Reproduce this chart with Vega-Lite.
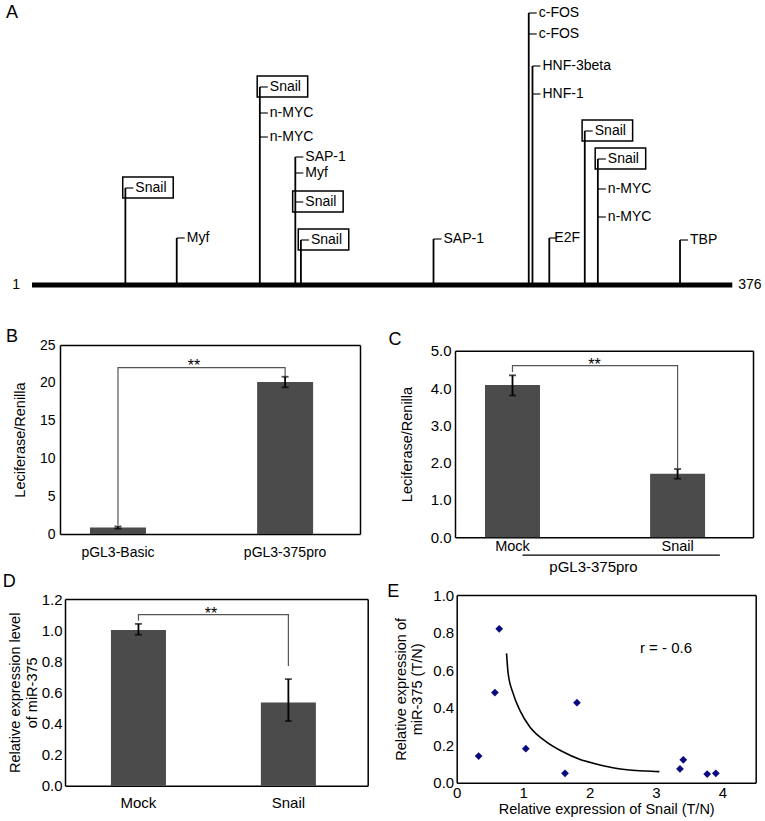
{
  "$schema": "https://vega.github.io/schema/vega-lite/v6.json",
  "width": 765,
  "height": 821,
  "autosize": {"type": "none"},
  "padding": 0,
  "background": "white",
  "config": {
    "font": "Liberation Sans",
    "view": {"stroke": null},
    "axis": {"grid": false, "ticks": false, "domainColor": "black", "domainWidth": 1.5, "labelColor": "black", "titleColor": "black", "titleFontWeight": "normal", "labelFont": "Liberation Sans", "titleFont": "Liberation Sans", "labelFlush": false, "labelOverlap": false}
  },
  "datasets": {
    "tfs": [
      {"pos": 51, "level": 97, "tf": "Snail", "boxed": true},
      {"pos": 78.5, "level": 47, "tf": "Myf", "boxed": false},
      {"pos": 123, "level": 198, "tf": "Snail", "boxed": true},
      {"pos": 123, "level": 172, "tf": "n-MYC", "boxed": false},
      {"pos": 123, "level": 148, "tf": "n-MYC", "boxed": false},
      {"pos": 142, "level": 128, "tf": "SAP-1", "boxed": false},
      {"pos": 142, "level": 112, "tf": "Myf", "boxed": false},
      {"pos": 142, "level": 83, "tf": "Snail", "boxed": true},
      {"pos": 145, "level": 45, "tf": "Snail", "boxed": true},
      {"pos": 216, "level": 46, "tf": "SAP-1", "boxed": false},
      {"pos": 267, "level": 272, "tf": "c-FOS", "boxed": false},
      {"pos": 267, "level": 251, "tf": "c-FOS", "boxed": false},
      {"pos": 269, "level": 219, "tf": "HNF-3beta", "boxed": false},
      {"pos": 269, "level": 191, "tf": "HNF-1", "boxed": false},
      {"pos": 278, "level": 47, "tf": "E2F", "boxed": false},
      {"pos": 297, "level": 154, "tf": "Snail", "boxed": true},
      {"pos": 304, "level": 126, "tf": "Snail", "boxed": true},
      {"pos": 304, "level": 96, "tf": "n-MYC", "boxed": false},
      {"pos": 304, "level": 68, "tf": "n-MYC", "boxed": false},
      {"pos": 348, "level": 45, "tf": "TBP", "boxed": false}
    ],
    "seq": [{"start": 1, "end": 376, "level": 0}],
    "b": [
      {"group": "pGL3-Basic", "value": 0.85, "lo": 0.72, "hi": 1.0},
      {"group": "pGL3-375pro", "value": 20.1, "lo": 19.4, "hi": 20.8}
    ],
    "bBr": [
      {"group": "pGL3-Basic", "y": 1.2, "o": 1},
      {"group": "pGL3-Basic", "y": 22, "o": 2},
      {"group": "pGL3-375pro", "y": 22, "o": 3},
      {"group": "pGL3-375pro", "y": 20.9, "o": 4}
    ],
    "c": [
      {"group": "Mock", "value": 4.08, "lo": 3.8, "hi": 4.34},
      {"group": "Snail", "value": 1.7, "lo": 1.57, "hi": 1.83}
    ],
    "cBr": [
      {"group": "Mock", "y": 4.43, "o": 1},
      {"group": "Mock", "y": 4.6, "o": 2},
      {"group": "Snail", "y": 4.6, "o": 3},
      {"group": "Snail", "y": 1.86, "o": 4}
    ],
    "d": [
      {"group": "Mock", "value": 1.0, "lo": 0.97, "hi": 1.04},
      {"group": "Snail", "value": 0.535, "lo": 0.415, "hi": 0.685}
    ],
    "dBr": [
      {"group": "Mock", "y": 1.06, "o": 1},
      {"group": "Mock", "y": 1.1, "o": 2},
      {"group": "Snail", "y": 1.1, "o": 3},
      {"group": "Snail", "y": 0.77, "o": 4}
    ],
    "ePts": [
      {"snail": 0.33, "mir": 0.142},
      {"snail": 0.575, "mir": 0.48},
      {"snail": 0.64, "mir": 0.82},
      {"snail": 1.04, "mir": 0.181},
      {"snail": 1.63, "mir": 0.05},
      {"snail": 1.81, "mir": 0.426},
      {"snail": 3.36, "mir": 0.073},
      {"snail": 3.41, "mir": 0.122},
      {"snail": 3.77, "mir": 0.046},
      {"snail": 3.9, "mir": 0.05}
    ],
    "eCurve": [
      {"snail": 0.75, "mir": 0.689},
      {"snail": 0.774, "mir": 0.583},
      {"snail": 0.849, "mir": 0.476},
      {"snail": 0.949, "mir": 0.387},
      {"snail": 1.099, "mir": 0.298},
      {"snail": 1.349, "mir": 0.218},
      {"snail": 1.598, "mir": 0.165},
      {"snail": 1.849, "mir": 0.125},
      {"snail": 2.099, "mir": 0.1},
      {"snail": 2.348, "mir": 0.08},
      {"snail": 2.598, "mir": 0.068},
      {"snail": 2.849, "mir": 0.062},
      {"snail": 3.05, "mir": 0.059}
    ]
  },
  "layer": [
    {
      "layer": [
        {
          "data": {"name": "tfs"},
          "mark": {"type": "tick", "orient": "horizontal", "color": "black", "size": 8, "thickness": 1.6, "xOffset": 4},
          "encoding": {
            "x": {"field": "pos", "type": "quantitative", "scale": {"domain": [1, 376], "range": [32, 732.3], "nice": false, "zero": false}, "axis": null},
            "y": {"field": "level", "type": "quantitative", "scale": {"domain": [0, 285], "range": [285, 0], "nice": false, "zero": false}, "axis": null}
          }
        },
        {
          "data": {"name": "seq"},
          "mark": {"type": "rule", "color": "black", "strokeWidth": 5},
          "encoding": {
            "x": {"field": "start", "type": "quantitative", "axis": null},
            "x2": {"field": "end"},
            "y": {"field": "level", "type": "quantitative", "axis": null}
          }
        },
        {
          "data": {"name": "tfs"},
          "transform": [{"aggregate": [{"op": "max", "field": "level", "as": "top"}], "groupby": ["pos"]}],
          "mark": {"type": "rule", "color": "black", "strokeWidth": 1.8},
          "encoding": {
            "x": {"field": "pos", "type": "quantitative", "axis": null},
            "y": {"field": "top", "type": "quantitative", "axis": null}
          }
        },
        {
          "data": {"name": "tfs"},
          "transform": [{"filter": "datum.tf !== 'E2F'"}],
          "mark": {"type": "text", "align": "left", "baseline": "middle", "dx": 10, "fontSize": 14, "color": "black"},
          "encoding": {
            "x": {"field": "pos", "type": "quantitative", "axis": null},
            "y": {"field": "level", "type": "quantitative", "axis": null},
            "text": {"field": "tf", "type": "nominal"}
          }
        },
        {
          "data": {"name": "tfs"},
          "transform": [{"filter": "datum.tf === 'E2F'"}],
          "mark": {"type": "text", "align": "left", "baseline": "middle", "dx": 5, "fontSize": 14, "color": "black"},
          "encoding": {
            "x": {"field": "pos", "type": "quantitative", "axis": null},
            "y": {"field": "level", "type": "quantitative", "axis": null},
            "text": {"field": "tf", "type": "nominal"}
          }
        },
        {
          "data": {"name": "tfs"},
          "transform": [{"filter": "datum.boxed"}],
          "mark": {"type": "point", "shape": "M-1,-0.42L1,-0.42L1,0.42L-1,0.42Z", "size": 2550, "filled": false, "stroke": "black", "strokeWidth": 1.5, "opacity": 1, "xOffset": 22.6, "yOffset": -0.5},
          "encoding": {
            "x": {"field": "pos", "type": "quantitative", "axis": null},
            "y": {"field": "level", "type": "quantitative", "axis": null}
          }
        },
        {
          "data": {"values": [{"pos": 1, "level": 0, "t": "1"}]},
          "mark": {"type": "text", "align": "right", "baseline": "middle", "dx": -12, "fontSize": 14},
          "encoding": {
            "x": {"field": "pos", "type": "quantitative", "axis": null},
            "y": {"field": "level", "type": "quantitative", "axis": null},
            "text": {"field": "t", "type": "nominal"}
          }
        },
        {
          "data": {"values": [{"pos": 376, "level": 0, "t": "376"}]},
          "mark": {"type": "text", "align": "left", "baseline": "middle", "dx": 6, "fontSize": 14},
          "encoding": {
            "x": {"field": "pos", "type": "quantitative", "axis": null},
            "y": {"field": "level", "type": "quantitative", "axis": null},
            "text": {"field": "t", "type": "nominal"}
          }
        },
        {
          "data": {"values": [{"pos": 1, "level": 285, "t": "A"}]},
          "mark": {"type": "text", "align": "center", "baseline": "middle", "dx": -20, "dy": 13, "fontSize": 18},
          "encoding": {
            "x": {"field": "pos", "type": "quantitative", "axis": null},
            "y": {"field": "level", "type": "quantitative", "axis": null},
            "text": {"field": "t", "type": "nominal"}
          }
        }
      ]
    },
    {
      "layer": [
        {
          "data": {"name": "b"},
          "mark": {"type": "bar", "color": "#4b4b4b"},
          "encoding": {
            "x": {"field": "group", "type": "nominal", "scale": {"domain": ["pGL3-Basic", "pGL3-375pro"], "range": [60, 360], "paddingInner": 0.665, "paddingOuter": 0.23, "align": 0.39}, "axis": {"orient": "bottom", "offset": -287, "title": null, "labelAngle": 0, "labelFontSize": 14, "labelPadding": 11}},
            "y": {"field": "value", "type": "quantitative", "scale": {"domain": [0, 25], "range": [534, 345], "nice": false, "zero": false}, "axis": {"orient": "left", "offset": -60, "values": [0, 5, 10, 15, 20, 25], "title": "Leciferase/Renilla", "labelFontSize": 14, "labelPadding": 5, "titleFontSize": 14.5, "titlePadding": 12}}
          }
        },
        {
          "data": {"name": "b"},
          "mark": {"type": "rule", "color": "black", "strokeWidth": 1.8},
          "encoding": {
            "x": {"field": "group", "type": "nominal", "axis": null},
            "y": {"field": "lo", "type": "quantitative", "axis": null},
            "y2": {"field": "hi"}
          }
        },
        {
          "data": {"name": "b"},
          "mark": {"type": "tick", "orient": "horizontal", "color": "black", "size": 7, "thickness": 1.8},
          "encoding": {
            "x": {"field": "group", "type": "nominal", "axis": null},
            "y": {"field": "lo", "type": "quantitative", "axis": null}
          }
        },
        {
          "data": {"name": "b"},
          "mark": {"type": "tick", "orient": "horizontal", "color": "black", "size": 7, "thickness": 1.8},
          "encoding": {
            "x": {"field": "group", "type": "nominal", "axis": null},
            "y": {"field": "hi", "type": "quantitative", "axis": null}
          }
        },
        {
          "data": {"name": "bBr"},
          "mark": {"type": "line", "color": "#555555", "strokeWidth": 1.2},
          "encoding": {
            "x": {"field": "group", "type": "nominal", "axis": null},
            "y": {"field": "y", "type": "quantitative", "axis": null},
            "order": {"field": "o", "type": "quantitative"}
          }
        },
        {
          "data": {"values": [{"group": "pGL3-Basic", "y": 22, "t": "**"}]},
          "mark": {"type": "text", "align": "center", "baseline": "alphabetic", "dx": 76, "dy": 3.3, "fontSize": 16},
          "encoding": {
            "x": {"field": "group", "type": "nominal", "axis": null},
            "y": {"field": "y", "type": "quantitative", "axis": null},
            "text": {"field": "t", "type": "nominal"}
          }
        },
        {
          "data": {"values": [{"group": "pGL3-Basic", "y": 25, "t": "B"}]},
          "mark": {"type": "text", "align": "center", "baseline": "middle", "dx": -106, "dy": -8, "fontSize": 18},
          "encoding": {
            "x": {"field": "group", "type": "nominal", "axis": null},
            "y": {"field": "y", "type": "quantitative", "axis": null},
            "text": {"field": "t", "type": "nominal"}
          }
        },
        {
          "data": {"name": "b"},
          "mark": {"type": "point", "opacity": 0},
          "encoding": {
            "x": {"field": "group", "type": "nominal", "axis": {"orient": "top", "offset": -345, "labels": false, "title": null}},
            "y": {"field": "value", "type": "quantitative", "axis": {"orient": "right", "offset": -405, "labels": false, "title": null}}
          }
        }
      ],
      "resolve": {"axis": {"x": "independent", "y": "independent"}}
    },
    {
      "layer": [
        {
          "data": {"name": "c"},
          "mark": {"type": "bar", "color": "#4b4b4b"},
          "encoding": {
            "x": {"field": "group", "type": "nominal", "scale": {"domain": ["Mock", "Snail"], "range": [455, 753], "paddingInner": 0.667, "paddingOuter": 0.236, "align": 0.385}, "axis": {"orient": "bottom", "offset": -283.7, "title": "pGL3-375pro", "titleFontSize": 15, "titleX": 593, "titleY": 29.5, "titleBaseline": "middle", "titleAlign": "center", "labelAngle": 0, "labelFontSize": 14.5, "labelPadding": 2.5}},
            "y": {"field": "value", "type": "quantitative", "scale": {"domain": [0, 5], "range": [537.3, 350.7], "nice": false, "zero": false}, "axis": {"orient": "left", "offset": -455, "values": [0, 1, 2, 3, 4, 5], "format": ".1f", "title": "Leciferase/Renilla", "labelFontSize": 15, "labelPadding": 4, "titleFontSize": 14.5, "titlePadding": 16}}
          }
        },
        {
          "data": {"name": "c"},
          "mark": {"type": "rule", "color": "black", "strokeWidth": 1.8},
          "encoding": {
            "x": {"field": "group", "type": "nominal", "axis": null},
            "y": {"field": "lo", "type": "quantitative", "axis": null},
            "y2": {"field": "hi"}
          }
        },
        {
          "data": {"name": "c"},
          "mark": {"type": "tick", "orient": "horizontal", "color": "black", "size": 7, "thickness": 1.8},
          "encoding": {
            "x": {"field": "group", "type": "nominal", "axis": null},
            "y": {"field": "lo", "type": "quantitative", "axis": null}
          }
        },
        {
          "data": {"name": "c"},
          "mark": {"type": "tick", "orient": "horizontal", "color": "black", "size": 7, "thickness": 1.8},
          "encoding": {
            "x": {"field": "group", "type": "nominal", "axis": null},
            "y": {"field": "hi", "type": "quantitative", "axis": null}
          }
        },
        {
          "data": {"name": "cBr"},
          "mark": {"type": "line", "color": "#555555", "strokeWidth": 1.2},
          "encoding": {
            "x": {"field": "group", "type": "nominal", "axis": null},
            "y": {"field": "y", "type": "quantitative", "axis": null},
            "order": {"field": "o", "type": "quantitative"}
          }
        },
        {
          "data": {"values": [{"group": "Mock", "y": 4.6, "t": "**"}]},
          "mark": {"type": "text", "align": "center", "baseline": "alphabetic", "dx": 82, "dy": 4.4, "fontSize": 16},
          "encoding": {
            "x": {"field": "group", "type": "nominal", "axis": null},
            "y": {"field": "y", "type": "quantitative", "axis": null},
            "text": {"field": "t", "type": "nominal"}
          }
        },
        {
          "data": {"values": [{"from": "Mock", "to": "Snail", "y": -0.48}]},
          "mark": {"type": "rule", "color": "black", "strokeWidth": 1.2, "xOffset": 10, "x2Offset": 42.3},
          "encoding": {
            "x": {"field": "from", "type": "nominal", "axis": null},
            "x2": {"field": "to"},
            "y": {"field": "y", "type": "quantitative", "axis": null}
          }
        },
        {
          "data": {"values": [{"group": "Mock", "y": 5, "t": "C"}]},
          "mark": {"type": "text", "align": "center", "baseline": "middle", "dx": -117.5, "dy": -10.7, "fontSize": 18},
          "encoding": {
            "x": {"field": "group", "type": "nominal", "axis": null},
            "y": {"field": "y", "type": "quantitative", "axis": null},
            "text": {"field": "t", "type": "nominal"}
          }
        },
        {
          "data": {"name": "c"},
          "mark": {"type": "point", "opacity": 0},
          "encoding": {
            "x": {"field": "group", "type": "nominal", "axis": {"orient": "top", "offset": -350.7, "labels": false, "title": null}},
            "y": {"field": "value", "type": "quantitative", "axis": {"orient": "right", "offset": -12, "labels": false, "title": null}}
          }
        }
      ],
      "resolve": {"axis": {"x": "independent", "y": "independent"}}
    },
    {
      "layer": [
        {
          "data": {"name": "d"},
          "mark": {"type": "bar", "color": "#4b4b4b"},
          "encoding": {
            "x": {"field": "group", "type": "nominal", "scale": {"domain": ["Mock", "Snail"], "range": [65, 367.7], "paddingInner": 0.633, "paddingOuter": 0.326, "align": 0.47}, "axis": {"orient": "bottom", "offset": -35.3, "title": null, "labelAngle": 0, "labelFontSize": 15, "labelPadding": 10}},
            "y": {"field": "value", "type": "quantitative", "scale": {"domain": [0, 1.2], "range": [785.7, 599], "nice": false, "zero": false}, "axis": {"orient": "left", "offset": -65, "values": [0, 0.2, 0.4, 0.6, 0.8, 1.0, 1.2], "format": ".1f", "title": ["Relative expression level", "of miR-375"], "labelFontSize": 15, "labelPadding": 3, "titleFontSize": 14.5, "titlePadding": 2}}
          }
        },
        {
          "data": {"name": "d"},
          "mark": {"type": "rule", "color": "black", "strokeWidth": 1.8},
          "encoding": {
            "x": {"field": "group", "type": "nominal", "axis": null},
            "y": {"field": "lo", "type": "quantitative", "axis": null},
            "y2": {"field": "hi"}
          }
        },
        {
          "data": {"name": "d"},
          "mark": {"type": "tick", "orient": "horizontal", "color": "black", "size": 7, "thickness": 1.8},
          "encoding": {
            "x": {"field": "group", "type": "nominal", "axis": null},
            "y": {"field": "lo", "type": "quantitative", "axis": null}
          }
        },
        {
          "data": {"name": "d"},
          "mark": {"type": "tick", "orient": "horizontal", "color": "black", "size": 7, "thickness": 1.8},
          "encoding": {
            "x": {"field": "group", "type": "nominal", "axis": null},
            "y": {"field": "hi", "type": "quantitative", "axis": null}
          }
        },
        {
          "data": {"name": "dBr"},
          "mark": {"type": "line", "color": "#555555", "strokeWidth": 1.2},
          "encoding": {
            "x": {"field": "group", "type": "nominal", "axis": null},
            "y": {"field": "y", "type": "quantitative", "axis": null},
            "order": {"field": "o", "type": "quantitative"}
          }
        },
        {
          "data": {"values": [{"group": "Mock", "y": 1.1, "t": "**"}]},
          "mark": {"type": "text", "align": "center", "baseline": "alphabetic", "dx": 72.5, "dy": 4.6, "fontSize": 16},
          "encoding": {
            "x": {"field": "group", "type": "nominal", "axis": null},
            "y": {"field": "y", "type": "quantitative", "axis": null},
            "text": {"field": "t", "type": "nominal"}
          }
        },
        {
          "data": {"values": [{"group": "Mock", "y": 1.2, "t": "D"}]},
          "mark": {"type": "text", "align": "center", "baseline": "middle", "dx": -129.2, "dy": -17.3, "fontSize": 18},
          "encoding": {
            "x": {"field": "group", "type": "nominal", "axis": null},
            "y": {"field": "y", "type": "quantitative", "axis": null},
            "text": {"field": "t", "type": "nominal"}
          }
        },
        {
          "data": {"name": "d"},
          "mark": {"type": "point", "opacity": 0},
          "encoding": {
            "x": {"field": "group", "type": "nominal", "axis": {"orient": "top", "offset": -599, "labels": false, "title": null}},
            "y": {"field": "value", "type": "quantitative", "axis": {"orient": "right", "offset": -397.3, "labels": false, "title": null}}
          }
        }
      ],
      "resolve": {"axis": {"x": "independent", "y": "independent"}}
    },
    {
      "layer": [
        {
          "data": {"name": "ePts"},
          "mark": {"type": "point", "shape": "diamond", "filled": true, "color": "#0b0b80", "size": 60, "opacity": 1},
          "encoding": {
            "x": {"field": "snail", "type": "quantitative", "scale": {"domain": [0, 4.5], "range": [456.7, 755.7], "nice": false, "zero": false}, "axis": {"orient": "bottom", "offset": -38.3, "values": [0, 1, 2, 3, 4], "title": "Relative expression of Snail (T/N)", "labelFontSize": 15, "labelPadding": 3, "titleFontSize": 14.5, "titlePadding": 2}},
            "y": {"field": "mir", "type": "quantitative", "scale": {"domain": [0, 1], "range": [782.7, 595], "nice": false, "zero": false}, "axis": {"orient": "left", "offset": -456.7, "values": [0, 0.2, 0.4, 0.6, 0.8, 1.0], "format": ".1f", "title": ["Relative expression of", "miR-375 (T/N)"], "labelFontSize": 15, "labelPadding": 3, "titleFontSize": 14.5, "titlePadding": 8}}
          }
        },
        {
          "data": {"name": "eCurve"},
          "mark": {"type": "line", "color": "black", "strokeWidth": 1.6, "interpolate": "monotone"},
          "encoding": {
            "x": {"field": "snail", "type": "quantitative", "axis": null},
            "y": {"field": "mir", "type": "quantitative", "axis": null}
          }
        },
        {
          "data": {"values": [{"t": "r = - 0.6", "snail": 3.15, "mir": 0.716}]},
          "mark": {"type": "text", "align": "center", "baseline": "middle", "fontSize": 15},
          "encoding": {
            "x": {"field": "snail", "type": "quantitative", "axis": null},
            "y": {"field": "mir", "type": "quantitative", "axis": null},
            "text": {"field": "t", "type": "nominal"}
          }
        },
        {
          "data": {"values": [{"t": "E", "snail": 0, "mir": 1}]},
          "mark": {"type": "text", "align": "center", "baseline": "middle", "dx": -63.4, "dy": -2.7, "fontSize": 18},
          "encoding": {
            "x": {"field": "snail", "type": "quantitative", "axis": null},
            "y": {"field": "mir", "type": "quantitative", "axis": null},
            "text": {"field": "t", "type": "nominal"}
          }
        },
        {
          "data": {"name": "ePts"},
          "mark": {"type": "point", "opacity": 0},
          "encoding": {
            "x": {"field": "snail", "type": "quantitative", "axis": {"orient": "top", "offset": -595, "labels": false, "title": null, "values": [0]}},
            "y": {"field": "mir", "type": "quantitative", "axis": {"orient": "right", "offset": -9.3, "labels": false, "title": null, "values": [0]}}
          }
        }
      ],
      "resolve": {"axis": {"x": "independent", "y": "independent"}}
    }
  ],
  "resolve": {
    "scale": {"x": "independent", "y": "independent"},
    "axis": {"x": "independent", "y": "independent"}
  }
}
